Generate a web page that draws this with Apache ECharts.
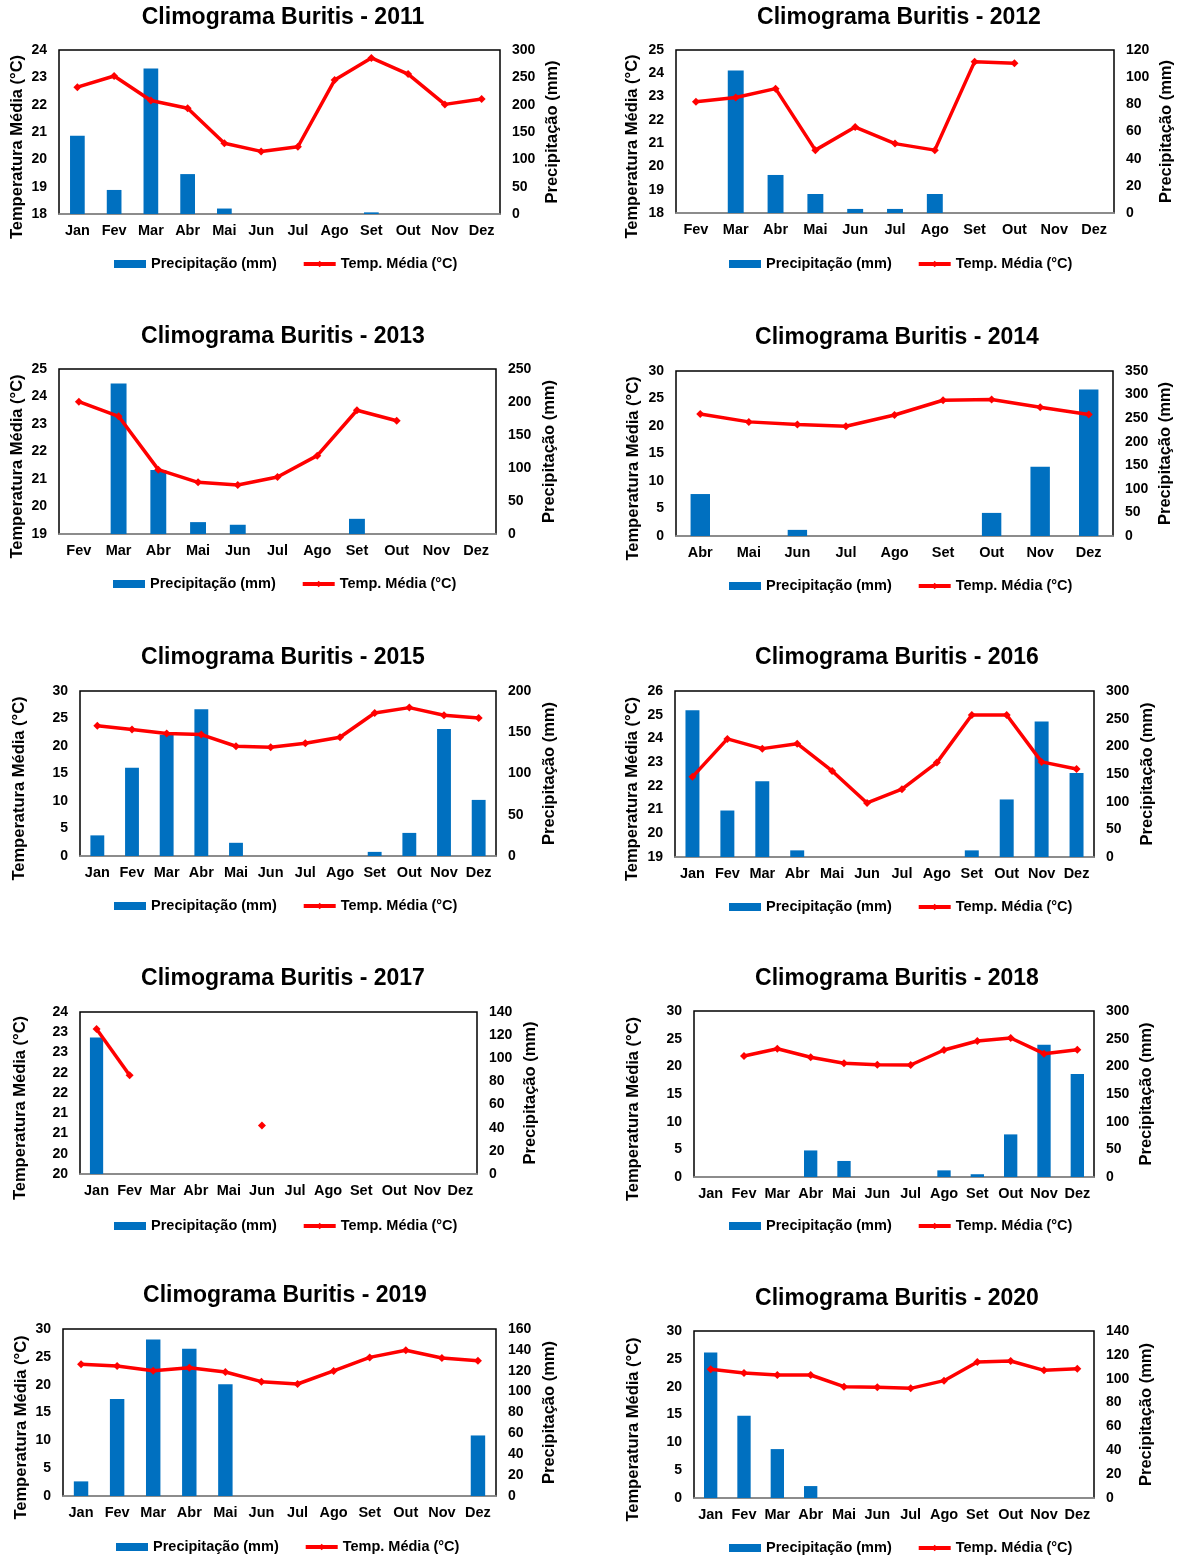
<!DOCTYPE html>
<html>
<head>
<meta charset="utf-8">
<script src="https://cdn.jsdelivr.net/npm/echarts@6/dist/echarts.min.js"></script>
<style>
  html, body { margin: 0; padding: 0; background: #fff; }
  #chart { width: 1179px; height: 1557px; }
</style>
</head>
<body>
<div id="chart"></div>
<script>
// Month categories used by the different years
const monthsJanDez = ['Jan', 'Fev', 'Mar', 'Abr', 'Mai', 'Jun', 'Jul', 'Ago', 'Set', 'Out', 'Nov', 'Dez'];
const monthsFevDez = ['Fev', 'Mar', 'Abr', 'Mai', 'Jun', 'Jul', 'Ago', 'Set', 'Out', 'Nov', 'Dez'];
const monthsAbrDez = ['Abr', 'Mai', 'Jun', 'Jul', 'Ago', 'Set', 'Out', 'Nov', 'Dez'];

// Monthly precipitation (mm) and mean temperature (°C), Buritis
const precip2011 = [143, 44, 266, 73, 10, 0, 0, 0, 3, 0, 0, 0];
const temp2011 = [22.64, 23.05, 22.15, 21.87, 20.59, 20.29, 20.46, 22.90, 23.71, 23.12, 22.01, 22.21];

const precip2012 = [0, 105, 28, 14, 3, 3, 14, 0, 0, 0, 0];
const temp2012 = [22.78, 22.96, 23.34, 20.70, 21.69, 20.98, 20.70, 24.50, 24.43, null, null];

const precip2013 = [0, 228, 97, 18, 14, 0, 0, 23, 0, 0, 0];
const temp2013 = [23.81, 23.28, 21.34, 20.88, 20.78, 21.07, 21.85, 23.50, 23.12, null, null];

const precip2014 = [89, 0, 13, 0, 0, 0, 49, 147, 311];
const temp2014 = [22.20, 20.75, 20.27, 19.96, 22.00, 24.68, 24.80, 23.40, 22.08];

const precip2015 = [25, 107, 147, 178, 16, 0, 0, 0, 5, 28, 154, 68];
const temp2015 = [23.70, 22.99, 22.26, 22.08, 19.96, 19.78, 20.50, 21.60, 26.00, 26.98, 25.59, 25.10];

const precip2016 = [265, 84, 137, 12, 0, 0, 0, 0, 12, 104, 245, 152];
const temp2016 = [22.38, 23.98, 23.57, 23.78, 22.63, 21.28, 21.86, 22.98, 24.99, 24.99, 23.01, 22.71];

const precip2017 = [118, 0, 0, 0, 0, 0, 0, 0, 0, 0, 0, 0];
const temp2017 = [23.58, 22.44, null, null, null, 21.20, null, null, null, null, null, null];
// 2017 temperature axis steps by 0.5 but its labels are whole numbers
const tempTicks2017 = ['20', '20', '21', '21', '22', '22', '23', '23', '24'];

const precip2018 = [0, 0, 0, 48, 29, 0, 0, 12, 5, 77, 239, 186];
const temp2018 = [null, 21.87, 23.19, 21.63, 20.54, 20.30, 20.24, 22.95, 24.58, 25.12, 22.29, 23.01];

const precip2019 = [14, 93, 150, 141, 107, 0, 0, 0, 0, 0, 0, 58];
const temp2019 = [23.65, 23.35, 22.50, 23.05, 22.28, 20.54, 20.12, 22.46, 24.90, 26.17, 24.79, 24.31];

const precip2020 = [122, 69, 41, 10, 0, 0, 0, 0, 0, 0, 0, 0];
const temp2020 = [23.11, 22.46, 22.10, 22.10, 20.00, 19.88, 19.70, 21.08, 24.43, 24.61, 22.93, 23.23];

// One entry per year: data plus axis scales
const panels = [
  { year: 2011, cats: monthsJanDez, precip: precip2011, temp: temp2011, t: [18, 24, 1], p: [0, 300, 50] },
  { year: 2012, cats: monthsFevDez, precip: precip2012, temp: temp2012, t: [18, 25, 1], p: [0, 120, 20] },
  { year: 2013, cats: monthsFevDez, precip: precip2013, temp: temp2013, t: [19, 25, 1], p: [0, 250, 50] },
  { year: 2014, cats: monthsAbrDez, precip: precip2014, temp: temp2014, t: [0, 30, 5], p: [0, 350, 50] },
  { year: 2015, cats: monthsJanDez, precip: precip2015, temp: temp2015, t: [0, 30, 5], p: [0, 200, 50] },
  { year: 2016, cats: monthsJanDez, precip: precip2016, temp: temp2016, t: [19, 26, 1], p: [0, 300, 50] },
  { year: 2017, cats: monthsJanDez, precip: precip2017, temp: temp2017, t: [20, 24, 0.5], p: [0, 140, 20], tLabels: tempTicks2017 },
  { year: 2018, cats: monthsJanDez, precip: precip2018, temp: temp2018, t: [0, 30, 5], p: [0, 300, 50] },
  { year: 2019, cats: monthsJanDez, precip: precip2019, temp: temp2019, t: [0, 30, 5], p: [0, 160, 20] },
  { year: 2020, cats: monthsJanDez, precip: precip2020, temp: temp2020, t: [0, 30, 5], p: [0, 140, 20] }
];

// Page placement of each panel (pixels)
const layouts = [
  { titleX: 283, titleY: 17,   l: 59,  t: 50,   w: 441, h: 164, gapL: 34, gapR: 45, legX: 114, legY: 263 },
  { titleX: 899, titleY: 17,   l: 676, t: 50,   w: 438, h: 163, gapL: 36, gapR: 45, legX: 729, legY: 263 },
  { titleX: 283, titleY: 336,  l: 59,  t: 369,  w: 437, h: 165, gapL: 34, gapR: 46, legX: 113, legY: 583 },
  { titleX: 897, titleY: 337,  l: 676, t: 371,  w: 437, h: 165, gapL: 35, gapR: 45, legX: 729, legY: 585 },
  { titleX: 283, titleY: 657,  l: 80,  t: 691,  w: 416, h: 165, gapL: 53, gapR: 46, legX: 114, legY: 905 },
  { titleX: 897, titleY: 657,  l: 675, t: 691,  w: 419, h: 166, gapL: 35, gapR: 46, legX: 729, legY: 906 },
  { titleX: 283, titleY: 978,  l: 80,  t: 1012, w: 397, h: 162, gapL: 52, gapR: 46, legX: 114, legY: 1225 },
  { titleX: 897, titleY: 978,  l: 694, t: 1011, w: 400, h: 166, gapL: 53, gapR: 45, legX: 729, legY: 1225 },
  { titleX: 285, titleY: 1295, l: 63,  t: 1329, w: 433, h: 167, gapL: 34, gapR: 46, legX: 116, legY: 1546 },
  { titleX: 897, titleY: 1298, l: 694, t: 1331, w: 400, h: 167, gapL: 53, gapR: 45, legX: 729, legY: 1547 }
];

const FONT = '"Liberation Sans", Arial, sans-serif';
const NAME_PRECIP = 'Precipitação (mm)';
const NAME_TEMP = 'Temp. Média (°C)';
const textBase = { fontFamily: FONT, fontWeight: 'bold', color: '#000' };

const option = {
  animation: false,
  backgroundColor: '#fff',
  title: [], legend: [], grid: [], xAxis: [], yAxis: [], series: []
};

panels.forEach((p, i) => {
  const L = layouts[i];
  option.title.push({
    text: 'Climograma Buritis - ' + p.year,
    left: L.titleX, top: L.titleY - 10.5, textAlign: 'center', padding: 0,
    textStyle: Object.assign({ fontSize: 23 }, textBase)
  });
  option.grid.push({
    left: L.l, top: L.t, width: L.w, height: L.h,
    show: true, borderColor: '#000', borderWidth: 1.5,
    containLabel: false, outerBoundsMode: 'none'
  });
  option.xAxis.push({
    type: 'category', gridIndex: i, data: p.cats,
    axisLine: { show: true, lineStyle: { color: '#a6a6a6', width: 1.5 } },
    axisTick: { show: false },
    axisLabel: Object.assign({ interval: 0, margin: 9, fontSize: 14.5 }, textBase)
  });
  const tempLabel = Object.assign({ margin: 12, fontSize: 14 }, textBase);
  if (p.tLabels) {
    const labels = p.tLabels;
    tempLabel.formatter = (v, idx) => labels[idx];
  }
  option.yAxis.push({
    type: 'value', gridIndex: i, position: 'left',
    min: p.t[0], max: p.t[1], interval: p.t[2],
    name: 'Temperatura Média (°C)', nameLocation: 'middle', nameGap: L.gapL - 1, nameRotate: 90,
    nameTextStyle: Object.assign({ fontSize: 16.5, padding: [0, 30, 0, 0] }, textBase),
    axisLine: { show: false }, axisTick: { show: false }, splitLine: { show: false },
    axisLabel: tempLabel
  });
  option.yAxis.push({
    type: 'value', gridIndex: i, position: 'right',
    min: p.p[0], max: p.p[1], interval: p.p[2],
    name: NAME_PRECIP, nameLocation: 'middle', nameGap: L.gapR - 1, nameRotate: 90,
    nameTextStyle: Object.assign({ fontSize: 16.5 }, textBase),
    axisLine: { show: false }, axisTick: { show: false }, splitLine: { show: false },
    axisLabel: Object.assign({ margin: 12, fontSize: 14 }, textBase)
  });
  option.series.push({
    type: 'bar', name: NAME_PRECIP, xAxisIndex: i, yAxisIndex: 2 * i + 1,
    data: p.precip, barWidth: '40%', itemStyle: { color: '#0070C0' }
  });
  option.series.push({
    type: 'line', name: NAME_TEMP, xAxisIndex: i, yAxisIndex: 2 * i,
    data: p.temp, symbol: 'diamond', symbolSize: 8, showSymbol: true, showAllSymbol: true,
    connectNulls: false,
    lineStyle: { color: '#FF0000', width: 3.5 },
    itemStyle: { color: '#FF0000' }
  });
  option.legend.push({
    left: L.legX, top: L.legY - 6.5, padding: 0,
    itemWidth: 32, itemHeight: 8, itemGap: 25,
    selectedMode: false,
    lineStyle: { width: 4 },
    data: [{ name: NAME_PRECIP, icon: 'rect' }, { name: NAME_TEMP }],
    textStyle: Object.assign({ fontSize: 14.5 }, textBase)
  });
});

const chart = echarts.init(document.getElementById('chart'));
chart.setOption(option);
</script>
</body>
</html>
